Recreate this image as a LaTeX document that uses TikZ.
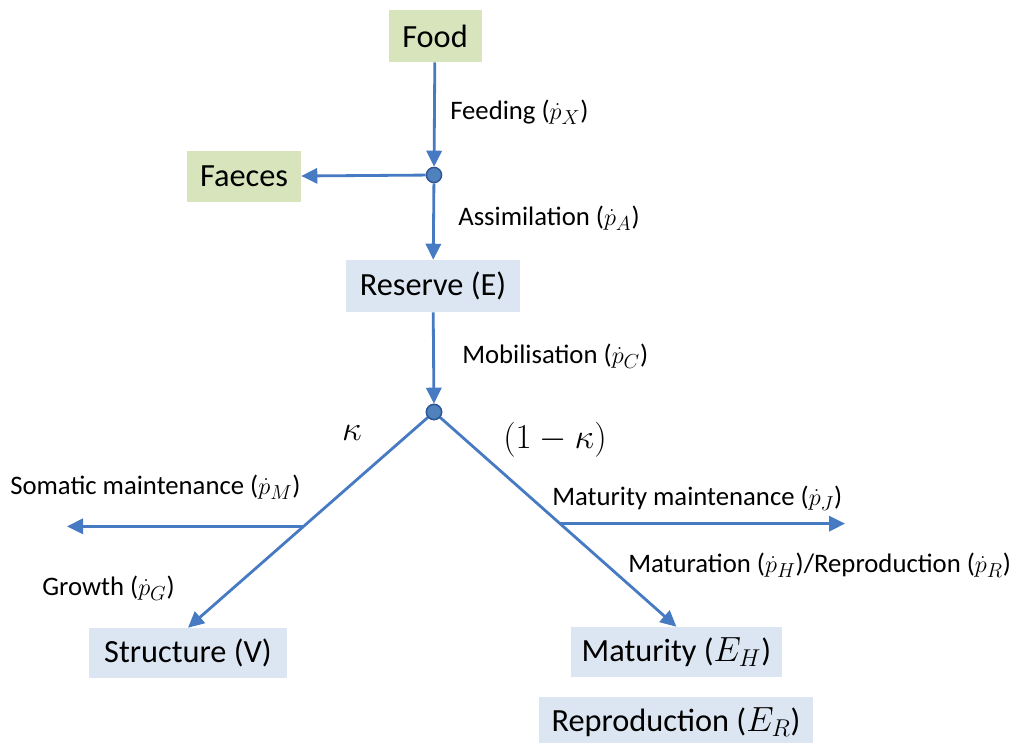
\documentclass[tikz,border=0pt]{standalone}
\usepackage{fontspec}
\setmainfont{Carlito}
\usepackage{amsmath}
\usetikzlibrary{arrows.meta, positioning, calc}
\definecolor{debblue}{RGB}{70, 122, 194}
\definecolor{debdot}{RGB}{79, 129, 189}
\definecolor{debdark}{RGB}{47, 85, 151}
\definecolor{debgreen}{RGB}{216, 228, 188}
\definecolor{debpale}{RGB}{220, 230, 242}

\begin{document}
\begin{tikzpicture}[
      greenbox/.style={rectangle, fill=debgreen, inner sep=0pt, minimum height=1.3cm, font=\fontsize{23}{27}\selectfont},
      palebox/.style={rectangle, fill=debpale, inner sep=0pt, minimum height=1.25cm, font=\fontsize{23}{27}\selectfont},
      flux/.style={anchor=west, inner sep=0pt, font=\fontsize{19}{23}\selectfont},
      junction/.style={circle, fill=debdot, draw=debdark, line width=1pt, inner sep=0pt, minimum size=0.38cm},
      arr/.style={-{Triangle[length=0.4cm, width=0.38cm]}, line width=2pt, debblue}
    ]
      \useasboundingbox (0, 0) rectangle (25.25, -18.55);

      \node[greenbox, minimum width=2.325cm] (food) at (10.875, -0.9) {Food};
      \node[greenbox, minimum width=2.85cm, minimum height=1.275cm] (faeces) at (6.1, -4.41) {Faeces};
      \node[palebox, minimum width=4.35cm, minimum height=1.3cm] (reserve) at (10.825, -7.15) {Reserve (E)};
      \node[palebox, minimum width=4.95cm] (structure) at (4.7, -16.325) {Structure (V)};
      \node[palebox, minimum width=5.275cm] (maturity) at (16.91, -16.3) {Maturity ($E_H$)};
      \node[palebox, minimum width=6.85cm] (repro) at (16.9, -18.05) {Reproduction ($E_R$)};

      \node[junction] (J1) at (10.85, -4.375) {};
      \node[junction] (J2) at (10.85, -10.3) {};

      \coordinate (somatic) at ($(J2)!0.53!(structure.north)$);
      \coordinate (matmain) at ($(J2)!0.52!(maturity.north)$);
      \coordinate (somaticend) at (1.675, 0 |- somatic);
      \coordinate (matmainend) at (21.125, 0 |- matmain);

      % fluxes
      \draw[arr] (food) -- (J1);
      \draw[arr] (J1) -- (faeces);
      \draw[arr] (J1) -- (reserve);
      \draw[arr] (reserve) -- (J2);
      \draw[arr] (J2.center) -- (structure.north);
      \draw[arr] (J2.center) -- (maturity.north);
      \draw[arr] (somatic) -- (somaticend);
      \draw[arr] (matmain) -- (matmainend);
      \node[junction] at (J2) {};

      % labels
      \node[flux] (feedlab) at (11.25, -2.8) {Feeding ($\dot{p}_X$)};
      \node[flux] (assimlab) at (11.45, -5.45) {Assimilation ($\dot{p}_A$)};
      \node[flux] (moblab) at (11.55, -8.9) {Mobilisation ($\dot{p}_C$)};
      \node[font=\fontsize{23}{27}\selectfont] (kappa) at (8.8, -10.825) {$\kappa$};
      \node[font=\fontsize{23}{27}\selectfont] (onekappa) at (13.875, -11.0) {$(1-\kappa)$};
      \node[flux] (somlab) at (0.25, -12.175) {Somatic maintenance ($\dot{p}_M$)};
      \node[flux] (growlab) at (1.05, -14.7) {Growth ($\dot{p}_G$)};
      \node[flux] (matmainlab) at (13.8, -12.45) {Maturity maintenance ($\dot{p}_J$)};
      \node[flux] (matlab) at (15.7, -14.125) {Maturation ($\dot{p}_H$)/Reproduction ($\dot{p}_R$)};
    \end{tikzpicture}
\end{document}
